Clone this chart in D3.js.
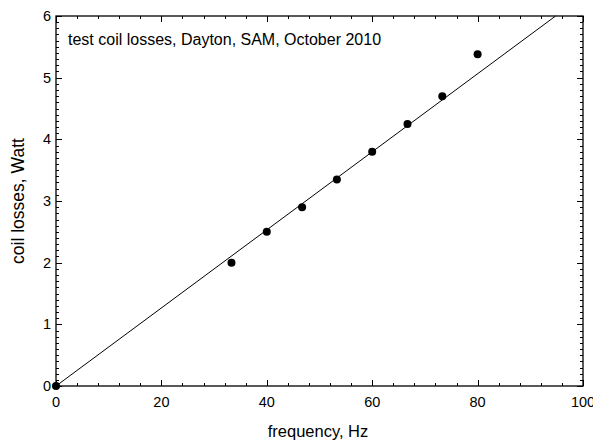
<!DOCTYPE html>
<html>
<head>
<meta charset="utf-8">
<script src="https://cdn.jsdelivr.net/npm/d3@7"></script>
<style>
  body { margin: 0; background: #fff; }
  svg text { font-family: "Liberation Sans", Arial, sans-serif; fill: #000; }
</style>
</head>
<body>
<div id="chart"></div>
<script>
const freqHz = [0, 33.3, 40, 46.7, 53.3, 60, 66.7, 73.3, 80]
const lossW = [0, 2.0, 2.5, 2.9, 3.35, 3.8, 4.25, 4.7, 5.38]

// straight fit line through the origin
const fitFreq = [0, 94.8]
const fitLoss = [0, 6]

const xTicks = [0, 20, 40, 60, 80, 100]
const yTicks = [0, 1, 2, 3, 4, 5, 6]
const title = 'test coil losses, Dayton, SAM, October 2010'

const width = 593, height = 441
const margin = { top: 16, right: 10, bottom: 55, left: 56 }
const innerW = 583 - margin.left
const innerH = 386 - margin.top

const svg = d3.select('#chart')
    .append('svg')
    .attr('width', width)
    .attr('height', height)

const g = svg.append('g')
    .attr('transform', `translate(${margin.left}, ${margin.top})`)

const x = d3.scaleLinear().domain([0, 100]).range([0, innerW])
const y = d3.scaleLinear().domain([0, 6]).range([innerH, 0])

// minor + major ticks pointing inward on all four sides
const xMinor = d3.range(0, 100.001, 4)
const yMinor = d3.range(0, 6.001, 0.1)

const tickG = g.append('g').attr('stroke', '#000').attr('stroke-width', 1)
xMinor.forEach(v => {
    const major = xTicks.some(t => Math.abs(t - v) < 1e-6)
    const len = major ? 6 : 3
    const px = Math.round(x(v)) + 0.5
    tickG.append('line').attr('x1', px).attr('x2', px).attr('y1', innerH).attr('y2', innerH - len)
    tickG.append('line').attr('x1', px).attr('x2', px).attr('y1', 0).attr('y2', len)
})
yMinor.forEach(v => {
    const major = yTicks.some(t => Math.abs(t - v) < 1e-6)
    const len = major ? 6 : 3
    const py = Math.round(y(v)) + 0.5
    tickG.append('line').attr('x1', 0).attr('x2', len).attr('y1', py).attr('y2', py)
    tickG.append('line').attr('x1', innerW).attr('x2', innerW - len).attr('y1', py).attr('y2', py)
})

// frame
g.append('rect')
    .attr('x', 0).attr('y', 0)
    .attr('width', innerW).attr('height', innerH)
    .attr('fill', 'none')
    .attr('stroke', '#000')
    .attr('stroke-width', 1.3)

// tick labels
g.selectAll('.xl')
    .data(xTicks)
    .enter()
    .append('text')
    .attr('x', d => x(d))
    .attr('y', innerH + 21)
    .attr('text-anchor', 'middle')
    .style('font-size', '14.5px')
    .text(d => d)

g.selectAll('.yl')
    .data(yTicks)
    .enter()
    .append('text')
    .attr('x', -5)
    .attr('y', d => y(d) + 5)
    .attr('text-anchor', 'end')
    .style('font-size', '14.5px')
    .text(d => d)

// fit line
const fit = fitFreq.map((f, i) => [f, fitLoss[i]])
g.append('path')
    .datum(fit)
    .attr('fill', 'none')
    .attr('stroke', '#000')
    .attr('stroke-width', 1)
    .attr('d', d3.line().x(d => x(d[0])).y(d => y(d[1])))

// points
g.selectAll('circle')
    .data(freqHz)
    .enter()
    .append('circle')
    .attr('cx', d => x(d))
    .attr('cy', (d, i) => y(lossW[i]))
    .attr('r', 4)
    .attr('fill', '#000')

// title inside plot
g.append('text')
    .attr('x', 12)
    .attr('y', 29)
    .style('font-size', '16px')
    .text(title)

// axis labels
svg.append('text')
    .attr('x', 318)
    .attr('y', 437)
    .attr('text-anchor', 'middle')
    .style('font-size', '16.5px')
    .text('frequency, Hz')

svg.append('text')
    .attr('transform', `translate(24, ${margin.top + innerH / 2}) rotate(-90)`)
    .attr('text-anchor', 'middle')
    .style('font-size', '17.5px')
    .text('coil losses, Watt')
</script>
</body>
</html>
